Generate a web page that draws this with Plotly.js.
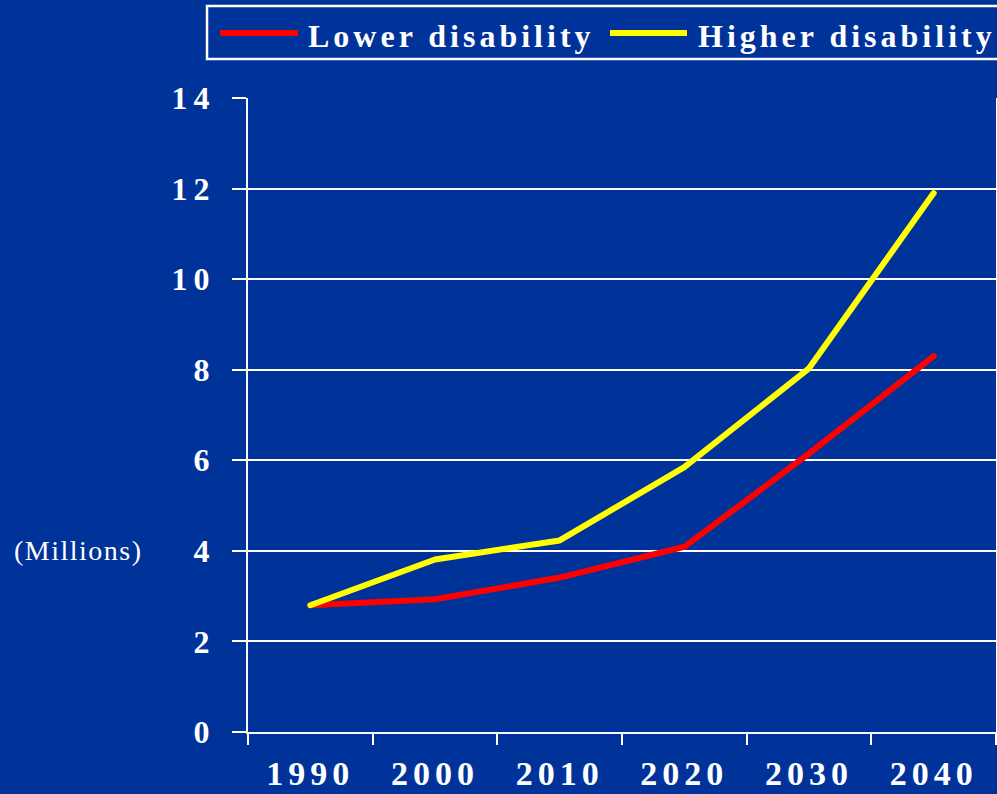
<!DOCTYPE html>
<html>
<head>
<meta charset="utf-8">
<script src="https://cdn.plot.ly/plotly-3.0.1.min.js"></script>
<style>
  html, body { margin: 0; padding: 0; background: #003399; }
  #chart { width: 997px; height: 794px; }
  .xtick text { letter-spacing: 5px; }
  .ytick text { letter-spacing: 6px; }
  .scatterlayer path.js-line { stroke-linecap: round; stroke-linejoin: round; }
</style>
</head>
<body>
<div id="chart"></div>
<script>
// Projected population with disabilities, in millions
const years = ['1990', '2000', '2010', '2020', '2030', '2040'];
const lowerDisability = [2.8, 2.93, 3.41, 4.09, 6.15, 8.3];
const higherDisability = [2.8, 3.81, 4.23, 5.85, 8.03, 11.9];
const seriesNames = ['Lower disability', 'Higher disability'];
const seriesColors = ['#ff0000', '#ffff00'];
const yTicks = [0, 2, 4, 6, 8, 10, 12, 14];
const unitLabel = '(Millions)';

const W = 997, H = 794;
const M = { l: 248, r: 1, t: 98, b: 62 };
const plotW = W - M.l - M.r, plotH = H - M.t - M.b;
// pixel position on the page -> paper coordinates
const px = x => (x - M.l) / plotW;
const py = y => (H - M.b - y) / plotH;

const serif = '"Liberation Serif", "Times New Roman", serif';
const spaced = (txt, s) => '<span style="letter-spacing:' + s + 'px">' + txt + '</span>';

const traces = [lowerDisability, higherDisability].map((vals, i) => ({
  x: years,
  y: vals,
  type: 'scatter',
  mode: 'lines',
  name: seriesNames[i],
  line: { color: seriesColors[i], width: 6 },
  showlegend: false,
  hoverinfo: 'skip'
}));

// Boxed key above the plot
const keyY = 33;
const shapes = [
  { type: 'rect', xref: 'paper', yref: 'paper',
    x0: px(207), x1: px(1002), y0: py(6), y1: py(59),
    line: { color: '#ffffff', width: 2.5 }, fillcolor: 'rgba(0,0,0,0)' },
  { type: 'line', xref: 'paper', yref: 'paper',
    x0: px(220), x1: px(298), y0: py(keyY), y1: py(keyY),
    line: { color: seriesColors[0], width: 6 } },
  { type: 'line', xref: 'paper', yref: 'paper',
    x0: px(610), x1: px(687), y0: py(keyY), y1: py(keyY),
    line: { color: seriesColors[1], width: 6 } }
];

const annotations = [
  { xref: 'paper', yref: 'paper', x: px(306), y: py(36), xanchor: 'left', yanchor: 'middle',
    text: '<b>' + spaced(seriesNames[0], 4) + '</b>', showarrow: false,
    font: { family: serif, size: 32, color: '#ffffff' } },
  { xref: 'paper', yref: 'paper', x: px(696), y: py(36), xanchor: 'left', yanchor: 'middle',
    text: '<b>' + spaced(seriesNames[1], 4) + '</b>', showarrow: false,
    font: { family: serif, size: 32, color: '#ffffff' } },
  { xref: 'paper', yref: 'y', x: px(78), y: 4, xanchor: 'center', yanchor: 'middle',
    text: spaced(unitLabel, 1.5), showarrow: false,
    font: { family: serif, size: 28, color: '#ffffff' } }
];

const layout = {
  width: W, height: H,
  margin: M,
  paper_bgcolor: '#003399',
  plot_bgcolor: '#003399',
  font: { family: serif, color: '#ffffff' },
  showlegend: false,
  xaxis: {
    type: 'category',
    range: [-0.5, 5.5],
    tickson: 'boundaries',
    ticks: 'outside', ticklen: 11, tickwidth: 2, tickcolor: '#ffffff',
    showline: true, linecolor: '#ffffff', linewidth: 2,
    showgrid: false, zeroline: false,
    ticklabelstandoff: 10,
    tickfont: { family: serif, size: 34, color: '#ffffff', weight: 'bold' }
  },
  yaxis: {
    range: [0, 14],
    tickvals: yTicks,
    ticks: 'outside', ticklen: 14, tickwidth: 2, tickcolor: '#ffffff',
    showline: true, linecolor: '#ffffff', linewidth: 2, mirror: true,
    showgrid: true, gridcolor: '#ffffff', gridwidth: 2,
    zeroline: false,
    ticklabelstandoff: 10,
    tickfont: { family: serif, size: 32, color: '#ffffff', weight: 'bold' }
  },
  shapes: shapes,
  annotations: annotations
};

Plotly.newPlot('chart', traces, layout, { displayModeBar: false, staticPlot: true });
</script>
</body>
</html>
